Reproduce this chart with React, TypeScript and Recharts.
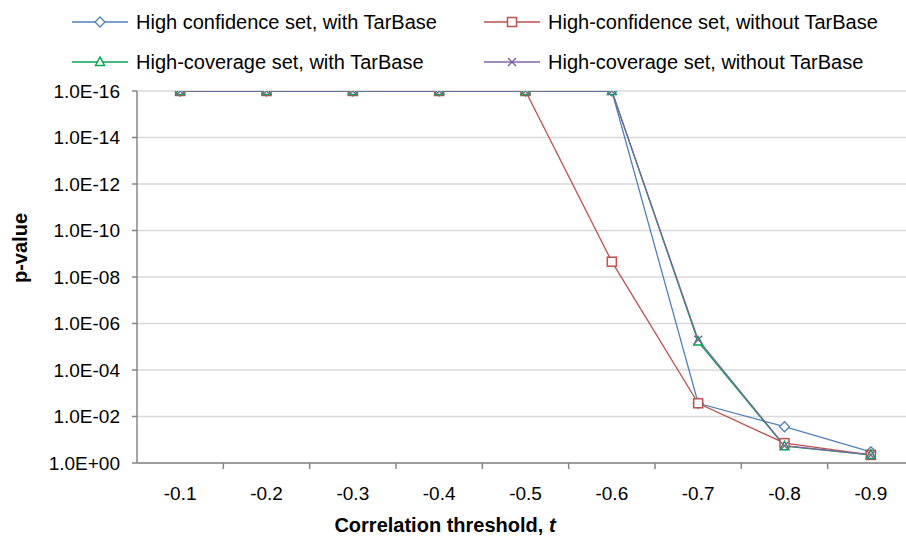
import React from "react";
import { LineChart, Line, XAxis, YAxis, CartesianGrid, Label } from "recharts";

// data
const categories = ["-0.1", "-0.2", "-0.3", "-0.4", "-0.5", "-0.6", "-0.7", "-0.8", "-0.9"];
const highConfWith = [1e-16, 1e-16, 1e-16, 1e-16, 1e-16, 1e-16, 2.7e-3, 2.75e-2, 0.33];
const highConfWithout = [1e-16, 1e-16, 1e-16, 1e-16, 1e-16, 2.2e-9, 2.7e-3, 0.14, 0.45];
const highCovWith = [1e-16, 1e-16, 1e-16, 1e-16, 1e-16, 1e-16, 6e-6, 0.19, 0.45];
const highCovWithout = [1e-16, 1e-16, 1e-16, 1e-16, 1e-16, 1e-16, 5e-6, 0.18, 0.45];
const yTicks = [1, 1e-2, 1e-4, 1e-6, 1e-8, 1e-10, 1e-12, 1e-14, 1e-16];

const data = categories.map((c, i) => ({
  t: c,
  a: highConfWith[i],
  b: highConfWithout[i],
  c: highCovWith[i],
  d: highCovWithout[i],
}));

const BLUE = "#4f81bd";
const RED = "#c0504d";
const GREEN = "#00a651";
const PURPLE = "#8064a2";
const FONT = "'Liberation Sans', Arial, sans-serif";

const W = 920;
const H = 537;
const LEFT = 137;
const RIGHT = 6;
const BAND = (W - LEFT - RIGHT) / categories.length;

const fmt = (v: number) => {
  const e = Math.round(Math.log10(v));
  return `1.0E${e < 0 ? "-" : "+"}${String(Math.abs(e)).padStart(2, "0")}`;
};

const Diamond = ({ cx, cy, color }: any) => (
  <polygon
    points={`${cx},${cy - 5} ${cx + 5},${cy} ${cx},${cy + 5} ${cx - 5},${cy}`}
    fill="white"
    stroke={color}
    strokeWidth={1.3}
  />
);
const Square = ({ cx, cy, color }: any) => (
  <rect x={cx - 4.5} y={cy - 4.5} width={9} height={9} fill="white" stroke={color} strokeWidth={1.5} />
);
const Triangle = ({ cx, cy, color }: any) => (
  <polygon
    points={`${cx},${cy - 5} ${cx + 4.5},${cy + 3.5} ${cx - 4.5},${cy + 3.5}`}
    fill="white"
    stroke={color}
    strokeWidth={1.5}
  />
);
const Cross = ({ cx, cy, color }: any) => (
  <g stroke={color} strokeWidth={1.5}>
    <line x1={cx - 4} y1={cy - 4} x2={cx + 4} y2={cy + 4} />
    <line x1={cx - 4} y1={cy + 4} x2={cx + 4} y2={cy - 4} />
  </g>
);

const XTick = (props: any) => {
  const { x, y, payload } = props;
  return (
    <g>
      <line x1={x + BAND / 2} y1={y} x2={x + BAND / 2} y2={y + 6} stroke="#868686" strokeWidth={1.5} />
      <text x={x} y={y + 30} textAnchor="middle" dominantBaseline="central" fontSize={19} fill="#000" fontFamily={FONT}>
        {payload.value}
      </text>
    </g>
  );
};

const legendItems = [
  { label: "High confidence set, with TarBase", color: BLUE, Mark: Diamond, x: 72, y: 22 },
  { label: "High-confidence set, without TarBase", color: RED, Mark: Square, x: 484, y: 22 },
  { label: "High-coverage set, with TarBase", color: GREEN, Mark: Triangle, x: 72, y: 62 },
  { label: "High-coverage set, without TarBase", color: PURPLE, Mark: Cross, x: 484, y: 62 },
];

const App: React.FC = () => {
  return (
    <div style={{ position: "absolute", left: 0, top: 0, width: 906, height: 537, overflow: "hidden", background: "white" }}>
      <svg width={906} height={90} style={{ position: "absolute", left: 0, top: 0 }}>
        {legendItems.map(({ label, color, Mark, x, y }) => (
          <g key={label}>
            <line x1={x} y1={y} x2={x + 56} y2={y} stroke={color} strokeWidth={1.3} />
            <Mark cx={x + 28} cy={y} color={color} />
            <text x={x + 64} y={y} dominantBaseline="central" fontSize={20} fontFamily={FONT} fill="#000">
              {label}
            </text>
          </g>
        ))}
      </svg>
      <LineChart
        width={W}
        height={H}
        data={data}
        margin={{ top: 91, right: RIGHT, bottom: 0, left: 0 }}
        style={{ position: "absolute", left: 0, top: 0 }}
      >
        <CartesianGrid vertical={false} stroke="#d9d9d9" strokeWidth={1.5} />
        <XAxis
          dataKey="t"
          height={74}
          stroke="#868686"
          strokeWidth={1.5}
          tickLine={false}
          tickSize={0}
          tickMargin={0}
          tick={<XTick />}
          interval={0}
          padding={{ left: BAND / 2, right: BAND / 2 }}
        >
          <Label
            content={() => (
              <text x={445} y={525} textAnchor="middle" dominantBaseline="central" fontSize={20} fontWeight="bold" fontFamily={FONT}>
                Correlation threshold, <tspan fontStyle="italic">t</tspan>
              </text>
            )}
          />
        </XAxis>
        <YAxis
          scale="log"
          domain={[1e-16, 1]}
          reversed
          allowDataOverflow
          ticks={yTicks}
          tickFormatter={fmt}
          width={LEFT}
          stroke="#868686"
          strokeWidth={1.5}
          tickSize={5}
          tickMargin={12}
          tick={{ fontSize: 19, fill: "#000", fontFamily: FONT }}
          interval={0}
        >
          <Label
            content={() => (
              <text
                x={20}
                y={248}
                transform="rotate(-90 20 248)"
                textAnchor="middle"
                dominantBaseline="central"
                fontSize={20}
                fontWeight="bold"
                fontFamily={FONT}
              >
                p-value
              </text>
            )}
          />
        </YAxis>
        <Line dataKey="a" stroke={BLUE} strokeWidth={1.3} isAnimationActive={false} dot={(p: any) => <Diamond key={p.index} cx={p.cx} cy={p.cy} color={BLUE} />} />
        <Line dataKey="b" stroke={RED} strokeWidth={1.3} isAnimationActive={false} dot={(p: any) => <Square key={p.index} cx={p.cx} cy={p.cy} color={RED} />} />
        <Line dataKey="c" stroke={GREEN} strokeWidth={1.3} isAnimationActive={false} dot={(p: any) => <Triangle key={p.index} cx={p.cx} cy={p.cy} color={GREEN} />} />
        <Line dataKey="d" stroke={PURPLE} strokeWidth={1.3} isAnimationActive={false} dot={(p: any) => <Cross key={p.index} cx={p.cx} cy={p.cy} color={PURPLE} />} />
      </LineChart>
    </div>
  );
};

export default App;
